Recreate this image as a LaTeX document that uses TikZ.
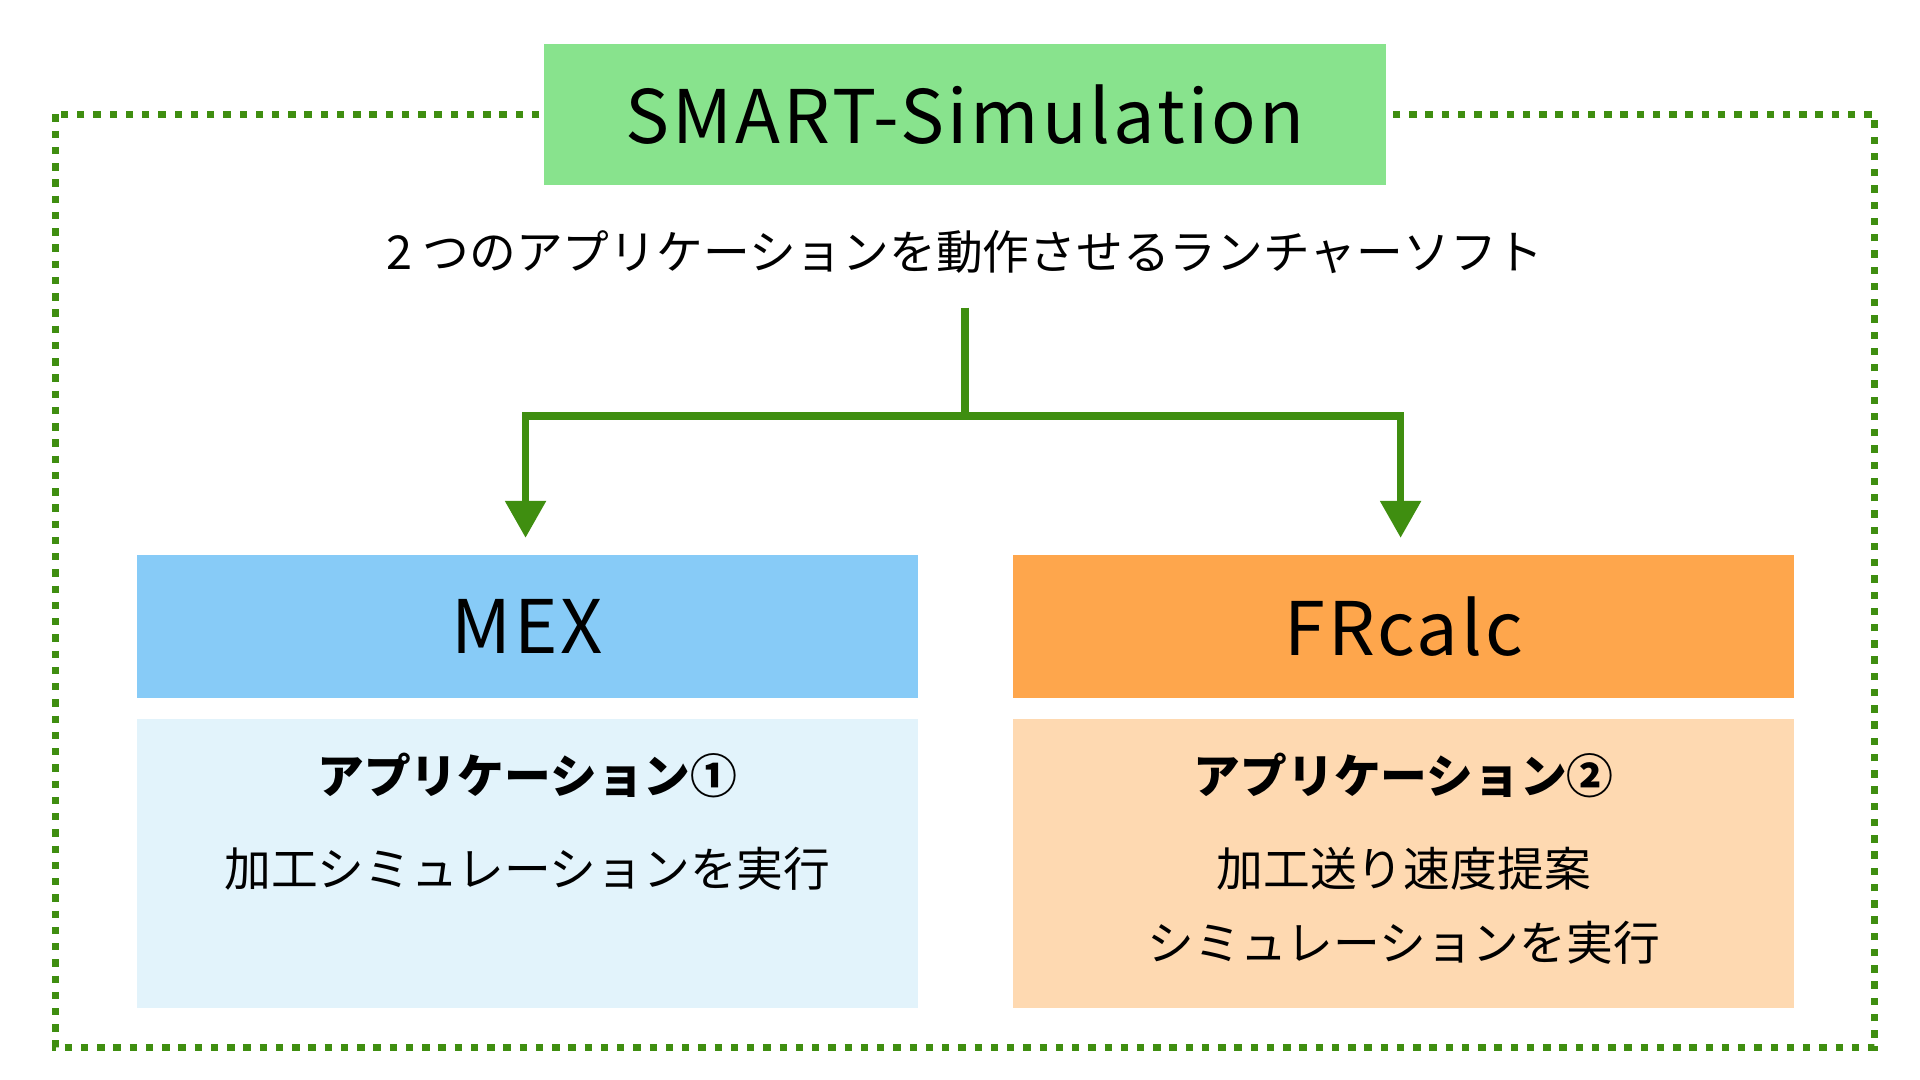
\documentclass[tikz,border=0pt]{standalone}
\usepackage{fontspec}
\setmainfont{Noto Sans CJK JP}
\usetikzlibrary{arrows.meta}
\definecolor{dgreen}{HTML}{3F8E10}
\definecolor{tgreen}{HTML}{88E38D}
\definecolor{mexh}{HTML}{87CBF7}
\definecolor{mexb}{HTML}{E2F3FB}
\definecolor{frh}{HTML}{FEA64C}
\definecolor{frb}{HTML}{FED9B1}
\begin{document}
\begin{tikzpicture}[x=0.5pt,y=-0.5pt,
  box/.style={draw=none,inner sep=0,outer sep=0},
  head/.style={font=\fontsize{30}{36}\selectfont\addfontfeatures{LetterSpace=4}},
  body/.style={font=\fontsize{19}{29}\selectfont,align=center},
  conn/.style={draw=dgreen,line width=3pt,-{Triangle[length=15pt,width=16pt]}}]
\useasboundingbox (0,0) rectangle (1560,877.5);
\draw[dgreen,line width=3pt,dash pattern=on 3pt off 3.6pt] (45,93) rectangle (1523,851);
\fill[tgreen] (442,36) rectangle (1126,150);
\node[head] (title) at (784,93) {SMART-Simulation};
\node[font=\fontsize{19}{24}\selectfont] (sub) at (784,205) {2 つのアプリケーションを動作させるランチャーソフト};
\coordinate (top) at (784,250);
\coordinate (mid) at (784,338);
\fill[mexh] (111,451) rectangle (746,567);
\node[head] (mex) at (428.5,509) {MEX};
\fill[mexb] (111,584) rectangle (746,819);
\fill[frh] (823,451) rectangle (1458,567);
\node[head] (fr) at (1140.5,509) {FRcalc};
\fill[frb] (823,584) rectangle (1458,819);
\coordinate (la) at (427,437);
\coordinate (ra) at (1138,437);
\draw[dgreen,line width=3pt] (top) -- (mid);
\draw[conn] (mid) -| (la);
\draw[conn] (mid) -| (ra);
\node[body,font=\fontsize{19}{29}\selectfont\bfseries] (a1) at (428.5,630) {アプリケーション①};
\node[body] (a1t) at (428.5,706) {加工シミュレーションを実行};
\node[body,font=\fontsize{19}{29}\selectfont\bfseries] (a2) at (1140.5,630) {アプリケーション②};
\node[body] (a2t) at (1140.5,736) {加工送り速度提案\\[1pt]シミュレーションを実行};
\end{tikzpicture}
\end{document}
